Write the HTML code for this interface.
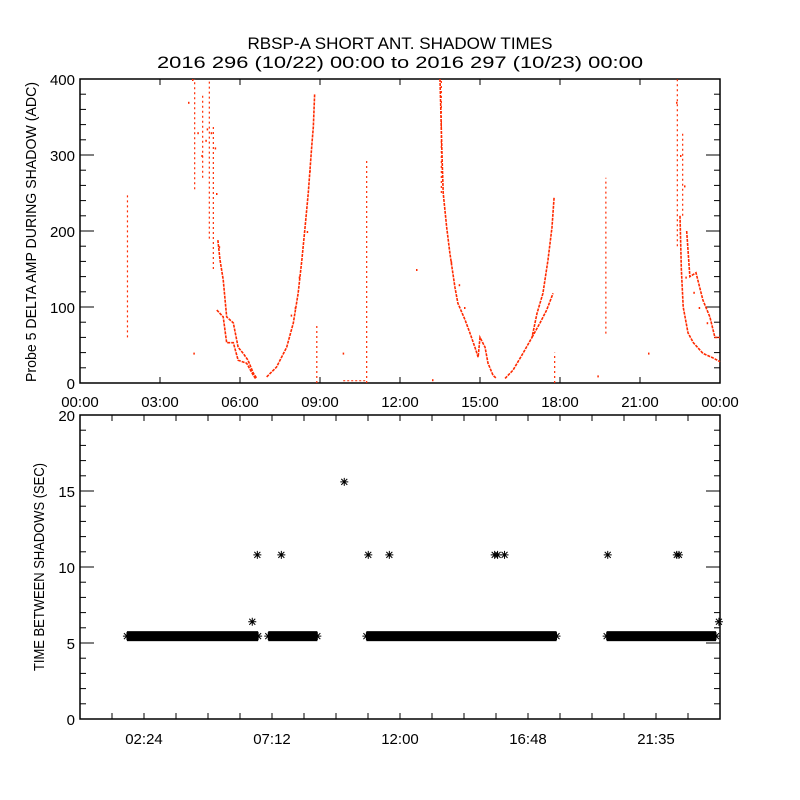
<!DOCTYPE html>
<html><head><meta charset="utf-8"><style>
html,body{margin:0;padding:0;background:#fff;}
svg{display:block;font-family:"Liberation Sans",sans-serif;}
</style></head><body>
<svg id="chart" width="800" height="800" viewBox="0 0 800 800" xmlns="http://www.w3.org/2000/svg">
<rect width="800" height="800" fill="#fff"/>
<text x="400" y="49" text-anchor="middle" font-size="16.5" textLength="305" lengthAdjust="spacingAndGlyphs">RBSP-A SHORT ANT. SHADOW TIMES</text>
<text x="400" y="68" text-anchor="middle" font-size="16.5" textLength="486" lengthAdjust="spacingAndGlyphs">2016 296 (10/22) 00:00 to 2016 297 (10/23) 00:00</text>
<g id="topPanel"></g>
<g id="botPanel"></g>
</svg>
<script>
// ---- data ----
const topTickHours = [0,3,6,9,12,15,18,21,24];
const topTickLabels = ["00:00","03:00","06:00","09:00","12:00","15:00","18:00","21:00","00:00"];
const topYTicks = [0,100,200,300,400];
const botYTicks = [0,5,10,15,20];
const botTickHours = [2.4,7.2,12,16.8,21.6];
const botTickLabels = ["02:24","07:12","12:00","16:48","21:35"];
// red traces (hour, value)
const trace1a = [[5.17,188],[5.25,162],[5.37,136],[5.5,87],[5.75,79],[5.93,47],[6.12,39],[6.3,30],[6.5,13],[6.63,6]];
const trace1b = [[5.13,96],[5.37,87],[5.5,53],[5.75,53],[5.93,30],[6.25,26],[6.5,10],[6.6,5]];
const trace2 = [[7.0,8],[7.37,21],[7.75,47],[8.0,79],[8.18,118],[8.32,162],[8.44,205],[8.56,250],[8.7,316],[8.75,337],[8.8,381]];
const trace3 = [[13.5,400],[13.57,306],[13.62,250],[13.75,205],[13.87,171],[14.06,126],[14.17,105],[14.44,83],[14.62,66],[14.81,47],[14.93,34],[15.0,60],[15.19,47],[15.3,26],[15.49,10],[15.62,6]];
const trace4a = [[15.94,6],[16.24,17],[16.61,39],[16.95,60],[17.14,92],[17.36,118],[17.55,162],[17.7,205],[17.78,245]];
const trace4b = [[16.95,60],[17.25,79],[17.5,96],[17.74,118]];
const trace5a = [[22.5,220],[22.55,150],[22.62,100],[22.8,66],[23.0,53],[23.36,39],[23.74,33],[24.0,28]];
const trace5b = [[22.75,200],[22.87,140],[23.1,145],[23.36,109],[23.62,87],[23.81,60],[24.0,60]];
const spikes = [[1.78,60,250],[8.88,0,78],[10.75,0,295],[17.8,0,40],[19.72,65,270],[4.3,255,400],[4.6,270,380],[4.85,190,400],[5.0,150,340],[13.55,250,400],[22.4,180,400],[22.6,220,330]];
const flatSeg = [[9.87,10.7,3]];
const scatter = [[4.05,370],[4.2,400],[4.4,330],[4.55,300],[4.7,320],[4.75,335],[4.9,330],[5.05,310],[5.1,250],[4.25,40],[9.85,40],[12.6,150],[13.2,5],[19.4,10],[21.3,40],[22.35,370],[22.5,300],[22.65,260],[22.7,140],[23.0,120],[23.2,100],[23.5,80],[14.4,100],[14.2,130],[8.05,100],[8.2,140],[7.9,90],[8.5,200],[8.6,280],[5.2,180],[13.9,160]];
// bottom panel
const bandSegs = [[1.61,6.83],[6.91,9.05],[10.59,18.02],[19.6,24.0]];
const bandValue = [5.45];
const outHours = [6.46,6.65,7.55,9.91,10.81,11.6,15.55,15.66,15.92,19.79,22.38,22.46,23.96];
const outVals  = [6.4,10.8,10.8,15.6,10.8,10.8,10.8,10.8,10.8,10.8,10.8,10.8,6.4];

// ---- axes ----
const L=80,R=720;
const xs = h => L + h*(R-L)/24;
const T1=79,B1=383, y1 = v => B1 - v*(B1-T1)/400;
const T2=415,B2=719, y2 = v => B2 - v*(B2-T2)/20;
const NS="http://www.w3.org/2000/svg";
function mk(parent,tag,attrs){const e=document.createElementNS(NS,tag);for(const k in attrs)e.setAttribute(k,attrs[k]);parent.appendChild(e);return e;}
const topG=document.getElementById('topPanel'), botG=document.getElementById('botPanel');
const RED="#ff2a00";

// top frame
let f=mk(topG,'rect',{x:L,y:T1,width:R-L,height:B1-T1,fill:'none',stroke:'#000','stroke-width':1.5});


for(let v=0;v<=400;v+=20){
  const major=v%100===0, len=major?14:6, y=y1(v);
  mk(topG,'line',{x1:L,x2:L+len,y1:y,y2:y,stroke:'#000','stroke-width':1});
  mk(topG,'line',{x1:R,x2:R-len,y1:y,y2:y,stroke:'#000','stroke-width':1});
}
topYTicks.forEach(v=>{
  const t=mk(topG,'text',{x:75,y:y1(v)+6,'text-anchor':'end','font-size':15});
  t.textContent=v;
  
  
});
topTickHours.forEach((h,i)=>{
  mk(topG,'line',{x1:xs(h),x2:xs(h),y1:B1,y2:B1-6,stroke:'#000'});
  mk(topG,'line',{x1:xs(h),x2:xs(h),y1:T1,y2:T1+6,stroke:'#000'});
  const t=mk(topG,'text',{x:xs(h),y:407,'text-anchor':'middle','font-size':15});
  t.textContent=topTickLabels[i];
  
  
});
let yt=mk(topG,'text',{x:0,y:0,'text-anchor':'middle','font-size':14.5,transform:'translate(36,232) rotate(-90)',textLength:300,lengthAdjust:'spacingAndGlyphs'});
yt.textContent='Probe 5 DELTA AMP DURING SHADOW (ADC)';



// traces
[trace1a,trace1b,trace2,trace3,trace4a,trace4b,trace5a,trace5b].forEach(tr=>{
  const p=mk(topG,'polyline',{points:tr.map(d=>xs(d[0])+','+y1(d[1])).join(' '),fill:'none',stroke:RED,'stroke-width':1.6,'stroke-dasharray':'3 1'});
  
  
});
spikes.forEach(s=>{
  const l=mk(topG,'line',{x1:xs(s[0]),x2:xs(s[0]),y1:y1(s[1]),y2:y1(s[2]),stroke:RED,'stroke-width':1.2,'stroke-dasharray':'2 3'});
  
  
});
flatSeg.forEach(s=>{
  const l=mk(topG,'line',{x1:xs(s[0]),x2:xs(s[1]),y1:y1(s[2]),y2:y1(s[2]),stroke:RED,'stroke-width':1,'stroke-dasharray':'2 2'});
  
  
});
scatter.forEach(s=>{
  const r=mk(topG,'rect',{x:xs(s[0]),y:y1(s[1]),width:1.5,height:2,fill:RED});
  
  
});

// bottom frame
f=mk(botG,'rect',{x:L,y:T2,width:R-L,height:B2-T2,fill:'none',stroke:'#000','stroke-width':1.5});


for(let v=0;v<=20;v+=1){
  const major=v%5===0,len=major?14:6,y=y2(v);
  mk(botG,'line',{x1:L,x2:L+len,y1:y,y2:y,stroke:'#000'});
  mk(botG,'line',{x1:R,x2:R-len,y1:y,y2:y,stroke:'#000'});
}
botYTicks.forEach(v=>{
  const t=mk(botG,'text',{x:75,y:y2(v)+6,'text-anchor':'end','font-size':15});
  t.textContent=v;
  
  
});
for(let h=1.2;h<24;h+=1.2){
  const len=6;
  mk(botG,'line',{x1:xs(h),x2:xs(h),y1:B2,y2:B2-len,stroke:'#000'});
  mk(botG,'line',{x1:xs(h),x2:xs(h),y1:T2,y2:T2+len,stroke:'#000'});
}
botTickHours.forEach((h,i)=>{
  const t=mk(botG,'text',{x:xs(h),y:744,'text-anchor':'middle','font-size':15});
  t.textContent=botTickLabels[i];
  
  
});
yt=mk(botG,'text',{x:0,y:0,'text-anchor':'middle','font-size':14.5,transform:'translate(44,567) rotate(-90)',textLength:208,lengthAdjust:'spacingAndGlyphs'});
yt.textContent='TIME BETWEEN SHADOWS (SEC)';



function star(px,py){
  const d=`M${px-4},${py}H${px+4}M${px},${py-4}V${py+4}M${px-3},${py-3}L${px+3},${py+3}M${px-3},${py+3}L${px+3},${py-3}`;
  return mk(botG,'path',{d:d,stroke:'#000','stroke-width':1,fill:'none'});
}
bandSegs.forEach(s=>{
  const x0=xs(s[0])+4,x1=Math.min(xs(s[1])-4,R-1);
  const r=mk(botG,'rect',{x:x0,y:y2(bandValue[0])-5,width:x1-x0,height:10,fill:'#000'});
  
  
  const s1=star(x0,y2(bandValue[0]));
  
  
  const s2=star(x1,y2(bandValue[0]));
  
  
});
outHours.forEach((h,i)=>{
  const s=star(xs(h),y2(outVals[i]));
  
  
});
</script>
</body></html>
